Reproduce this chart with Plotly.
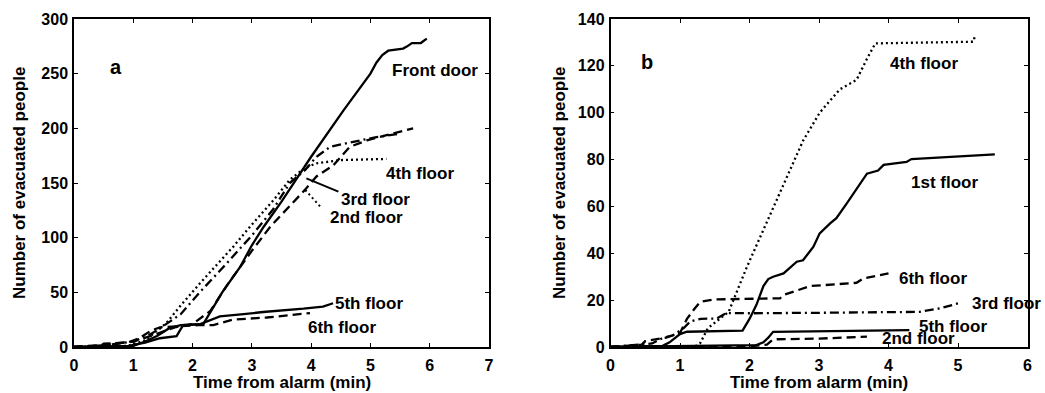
import plotly.graph_objects as go

# ---------------- Panel a data ----------------
a_front_x = [0, 0.9, 1.0, 1.2, 1.45, 1.73, 1.84, 2.18, 2.5, 2.8, 3.0, 3.2, 3.5, 4.0, 4.54, 4.8, 5.0, 5.1, 5.2, 5.3, 5.55, 5.62, 5.7, 5.85, 5.95]
a_front_y = [0, 0.5, 2, 4, 8, 10, 20, 21, 50, 73, 93, 110, 133, 174, 216, 235, 250, 260, 267, 271, 273, 275, 278, 278, 282]

a_4th_x = [0, 0.9, 1.2, 1.4, 1.56, 1.8, 2.12, 2.69, 3.0, 3.36, 3.64, 3.9, 4.09, 4.5, 5.27]
a_4th_y = [0, 1, 6, 15, 22, 38, 58, 92, 112, 134, 153, 164, 168, 171, 172]

a_3rd_x = [0, 0.6, 1.0, 1.3, 1.5, 1.8, 2.12, 2.5, 3.0, 3.36, 3.64, 3.9, 4.09, 4.32, 4.65, 5.1, 5.5]
a_3rd_y = [0, 2, 5, 12, 19, 30, 50, 72, 102, 126, 150, 162, 174, 183, 187, 192, 195]

a_2nd_x = [0, 0.5, 1.0, 1.4, 1.7, 2.0, 2.3, 2.6, 3.0, 3.31, 3.9, 4.09, 4.37, 4.65, 4.94, 5.44, 5.72]
a_2nd_y = [0, 2, 5, 12, 18, 21, 33, 58, 88, 110, 144, 156, 166, 183, 189, 196, 200]

a_5th_x = [0, 1.0, 1.2, 1.4, 1.6, 1.8, 2.13, 2.46, 2.86, 3.19, 3.87, 4.2, 4.37]
a_5th_y = [0, 1, 5, 10, 17, 20, 21, 28, 30, 32, 35, 37, 40]

a_6th_x = [0, 0.45, 0.5, 0.9, 1.1, 1.3, 1.45, 1.8, 2.1, 2.35, 2.68, 3.25, 3.98]
a_6th_y = [0, 1, 3, 4, 8, 15, 18, 19, 20, 20, 25, 27, 31]

# ---------------- Panel b data ----------------
b_4th_x = [0, 1.2, 1.29, 1.4, 1.57, 1.7, 1.96, 2.25, 2.44, 2.77, 3.01, 3.3, 3.54, 3.69, 3.81, 5.22, 5.24]
b_4th_y = [0, 0, 1.6, 8, 12, 15, 34, 53, 66, 88, 100, 110, 114, 123, 129.6, 130.3, 132.4]

b_1st_x = [0, 0.75, 0.85, 1.0, 1.1, 1.5, 1.9, 2.0, 2.1, 2.2, 2.27, 2.34, 2.49, 2.68, 2.77, 2.92, 3.01, 3.16, 3.25, 3.4, 3.54, 3.69, 3.85, 3.93, 4.26, 4.33, 5.53]
b_1st_y = [0, 0.5, 2, 5.5, 6.5, 6.8, 7, 12, 18, 26, 29, 30, 31.4, 36.4, 37, 42.8, 48.5, 52.8, 55, 61.3, 67.5, 74, 75.3, 77.7, 79, 80.2, 82.2]

b_6th_x = [0, 0.45, 0.5, 0.8, 1.0, 1.1, 1.2, 1.29, 1.48, 1.8, 2.44, 2.49, 2.87, 3.54, 3.64, 4.0]
b_6th_y = [0, 1, 2.5, 4, 6, 12, 16, 19.3, 20.3, 20.5, 20.8, 22.2, 26, 27.4, 29.3, 31.4]

b_3rd_x = [0, 0.6, 0.76, 0.9, 1.05, 1.15, 1.3, 1.53, 1.67, 2.0, 3.0, 4.0, 4.45, 4.74, 5.0]
b_3rd_y = [0, 1.5, 4, 5, 8, 11, 12, 12.2, 14.5, 14.4, 14.6, 15, 15, 16.5, 18.6]

b_5th_x = [0, 1.0, 2.1, 2.2, 2.27, 2.34, 3.0, 4.3]
b_5th_y = [0, 0.3, 0.8, 2, 4, 6.5, 6.8, 7.2]

b_2nd_x = [0, 2.0, 2.25, 2.33, 2.4, 3.0, 3.69]
b_2nd_y = [0, 0.3, 1, 3, 3.3, 3.6, 4.4]

# ---------------- Labels ----------------
a_labels = ["Front door", "4th floor", "3rd floor", "2nd floor", "5th floor", "6th floor"]
a_label_x = [6.09, 5.83, 5.08, 4.93, 4.97, 4.52]
a_label_y = [253, 159, 134.5, 118, 40, 17.4]

b_labels = ["4th floor", "1st floor", "6th floor", "3rd floor", "5th floor", "2nd floor"]
b_label_x = [4.51, 4.8, 4.64, 5.7, 4.93, 4.43]
b_label_y = [121, 70.1, 29.3, 18.6, 8.7, 3.7]

x_title = "Time from alarm (min)"
y_title = "Number of evacuated people"

FONT = "Liberation Sans, Arial, sans-serif"
LW = 2.3
DASHES = {"solid": "solid", "dot": "2px,3px", "dash": "9px,5px", "dashdot": "9px,4px,2px,4px"}

fig = go.Figure()

def add(x, y, dash, xa, ya):
    fig.add_trace(go.Scatter(x=x, y=y, mode="lines", xaxis=xa, yaxis=ya,
                             line=dict(color="black", width=LW, dash=DASHES[dash]),
                             showlegend=False, hoverinfo="skip"))

add(a_front_x, a_front_y, "solid", "x", "y")
add(a_4th_x, a_4th_y, "dot", "x", "y")
add(a_3rd_x, a_3rd_y, "dashdot", "x", "y")
add(a_2nd_x, a_2nd_y, "dash", "x", "y")
add(a_5th_x, a_5th_y, "solid", "x", "y")
add(a_6th_x, a_6th_y, "dash", "x", "y")

add(b_4th_x, b_4th_y, "dot", "x2", "y2")
add(b_1st_x, b_1st_y, "solid", "x2", "y2")
add(b_6th_x, b_6th_y, "dash", "x2", "y2")
add(b_3rd_x, b_3rd_y, "dashdot", "x2", "y2")
add(b_5th_x, b_5th_y, "solid", "x2", "y2")
add(b_2nd_x, b_2nd_y, "dash", "x2", "y2")

W, H = 1045, 393
ydom = [1 - 347 / H, 1 - 19 / H]
xdom_a = [74 / W, 489 / W]
xdom_b = [610.5 / W, 1027.5 / W]

axis_common = dict(showline=True, linecolor="black", linewidth=1.5, mirror="ticks",
                   ticks="inside", ticklen=4, tickwidth=1, tickcolor="black",
                   showgrid=False, zeroline=False, automargin=False,
                   tickfont=dict(family=FONT, size=16, color="black", weight="bold"))

fig.update_layout(
    template="none",
    width=W, height=H, margin=dict(l=0, r=0, t=0, b=0, autoexpand=False),
    paper_bgcolor="white", plot_bgcolor="white",
    xaxis=dict(domain=xdom_a, range=[0, 7], dtick=1, anchor="y", ticklabelstandoff=3, **axis_common),
    yaxis=dict(domain=ydom, range=[0, 300], dtick=50, anchor="x", ticklabelstandoff=1, **axis_common),
    xaxis2=dict(domain=xdom_b, range=[0, 6], dtick=1, anchor="y2", ticklabelstandoff=3, **axis_common),
    yaxis2=dict(domain=ydom, range=[0, 140], dtick=20, anchor="x2", ticklabelstandoff=1, **axis_common),
)

lab_font = dict(family=FONT, size=17, color="black", weight="bold")
anns = []
for t, x, y in zip(a_labels, a_label_x, a_label_y):
    anns.append(dict(text=t, x=x, y=y, xref="x", yref="y", showarrow=False, font=lab_font))
for t, x, y in zip(b_labels, b_label_x, b_label_y):
    anns.append(dict(text=t, x=x, y=y, xref="x2", yref="y2", showarrow=False, font=lab_font))

anns.append(dict(text="a", x=0.71, y=256, xref="x", yref="y", showarrow=False,
                 font=dict(family=FONT, size=20, color="black", weight="bold")))
anns.append(dict(text="b", x=0.53, y=121.8, xref="x2", yref="y2", showarrow=False,
                 font=dict(family=FONT, size=20, color="black", weight="bold")))

title_font = dict(family=FONT, size=17, color="black", weight="bold")
for cx in [281.5 / W, 819 / W]:
    anns.append(dict(text=x_title, x=cx, y=1 - 382 / H, xref="paper", yref="paper",
                     showarrow=False, font=title_font, xanchor="center", yanchor="middle"))
for cx in [19 / W, 559 / W]:
    anns.append(dict(text=y_title, x=cx, y=1 - 183 / H, xref="paper", yref="paper",
                     showarrow=False, font=title_font, textangle=-90,
                     xanchor="center", yanchor="middle"))

fig.update_layout(annotations=anns)

# leader lines for panel a labels
fig.add_shape(type="line", x0=3.92, y0=154.3, x1=4.46, y1=142.1, xref="x", yref="y",
              line=dict(color="black", width=2))
fig.add_shape(type="line", x0=3.9, y0=143.6, x1=4.18, y1=126.9, xref="x", yref="y",
              line=dict(color="black", width=2, dash="2px,3px"))

fig.write_html("out.html", config={"displayModeBar": False},
               post_script="document.body.style.margin='0';document.body.style.overflow='hidden';")
